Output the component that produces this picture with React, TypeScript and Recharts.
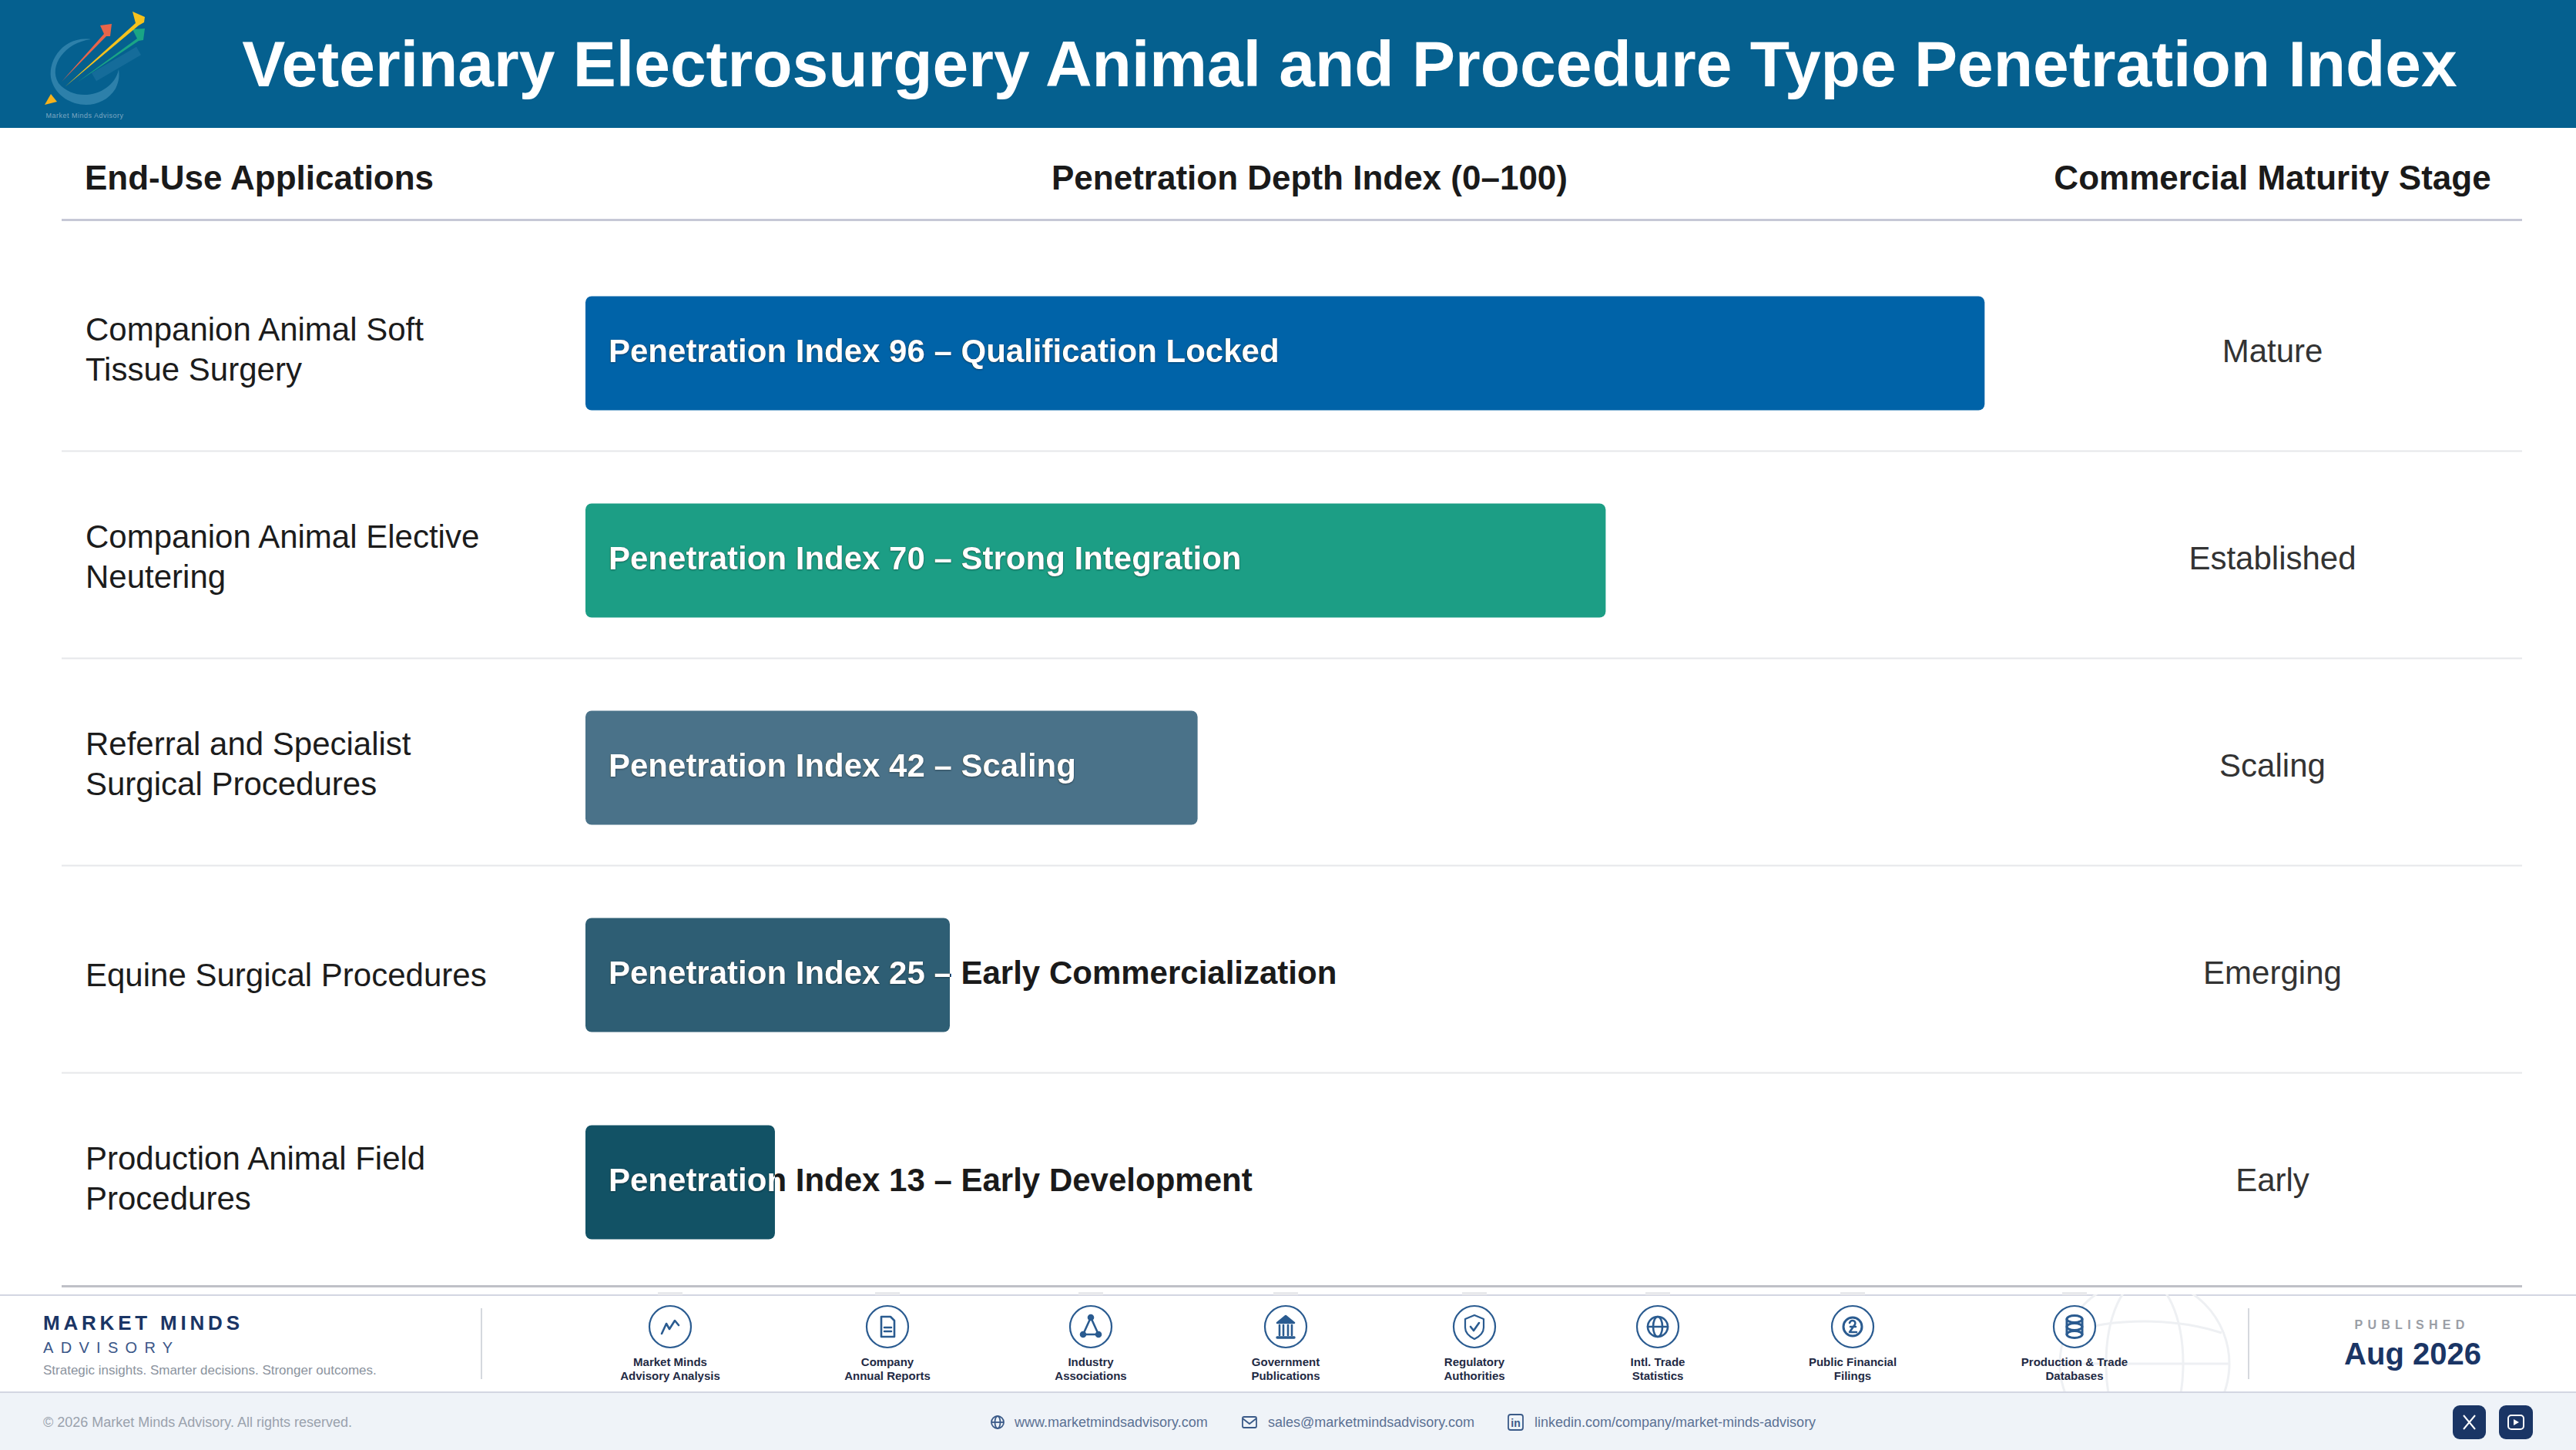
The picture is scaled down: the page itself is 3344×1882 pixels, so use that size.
import { BarChart, Bar, Cell, XAxis, YAxis, usePlotArea } from 'recharts';

const FONT = '"Liberation Sans", Arial, sans-serif';

const applications = [
  'Companion Animal Soft Tissue Surgery',
  'Companion Animal Elective Neutering',
  'Referral and Specialist Surgical Procedures',
  'Equine Surgical Procedures',
  'Production Animal Field Procedures',
];
const penetration = [96, 70, 42, 25, 13];
const statuses = ['Qualification Locked', 'Strong Integration', 'Scaling', 'Early Commercialization', 'Early Development'];
const stages = ['Mature', 'Established', 'Scaling', 'Emerging', 'Early'];
const barColors = ['#0063a8', '#1c9e85', '#4a7289', '#2e5e74', '#125265'];

const sources = [
  ['Market Minds', 'Advisory Analysis'],
  ['Company', 'Annual Reports'],
  ['Industry', 'Associations'],
  ['Government', 'Publications'],
  ['Regulatory', 'Authorities'],
  ['Intl. Trade', 'Statistics'],
  ['Public Financial', 'Filings'],
  ['Production & Trade', 'Databases'],
];
const sourceCenters = [870, 1152, 1416, 1669, 1914, 2152, 2405, 2693];

const chartData = applications.map((name, i) => ({
  name,
  value: penetration[i],
  status: statuses[i],
  stage: stages[i],
}));

function wrapLabel(text: string, limit = 26) {
  const lines: string[] = [];
  let line = '';
  text.split(' ').forEach((word) => {
    const next = line ? line + ' ' + word : word;
    if (next.length > limit) {
      lines.push(line);
      line = word;
    } else {
      line = next;
    }
  });
  lines.push(line);
  return lines;
}

function ApplicationTick({ x, y, payload }: any) {
  const lines = wrapLabel(payload.value);
  const top = y - ((lines.length - 1) * 52) / 2 + (lines.length === 1 ? 15 : 10);
  return (
    <text fontFamily={FONT} fontSize={42} fill="#1c1c1c">
      {lines.map((l, i) => (
        <tspan key={l} x={x - 649} y={top + i * 52}>
          {l}
        </tspan>
      ))}
    </text>
  );
}

function StageTick({ x, y, payload }: any) {
  return (
    <text x={x + 298} y={y + 12} textAnchor="middle" fontFamily={FONT} fontSize={42} fill="#333333">
      {payload.value}
    </text>
  );
}

// dark copy of the label underneath, white copy clipped to the bar
function LabelledBar({ x, y, width, height, fill, index, payload }: any) {
  const id = `bar-clip-${index}`;
  const label = `Penetration Index ${payload.value} – ${payload.status}`;
  const textProps = { x: x + 30, y: y + height / 2 + 11, fontFamily: FONT, fontSize: 42, fontWeight: 700 };
  return (
    <g>
      <clipPath id={id}>
        <rect x={x} y={y} width={width} height={height} rx={8} />
      </clipPath>
      <rect x={x} y={y} width={width} height={height} rx={8} fill={fill} />
      <text {...textProps} fill="#1a1a1a">
        {label}
      </text>
      <g clipPath={`url(#${id})`}>
        <text {...textProps} fill="#ffffff" style={{ filter: 'drop-shadow(0 1px 1px rgba(0,0,0,0.35))' }}>
          {label}
        </text>
      </g>
    </g>
  );
}

function RowDividers() {
  const plot = usePlotArea();
  if (!plot) return null;
  const band = plot.height / applications.length;
  return (
    <g>
      {applications.slice(1).map((name, i) => (
        <line key={name} x1={80} x2={3274} y1={plot.y + band * (i + 1) - 7} y2={plot.y + band * (i + 1) - 7} stroke="#e6e7ea" strokeWidth={2} />
      ))}
      <line x1={80} x2={3274} y1={plot.y + plot.height + 1} y2={plot.y + plot.height + 1} stroke="#bfc1c7" strokeWidth={3} />
    </g>
  );
}

function SourceIcon({ index }: { index: number }) {
  const c = '#2a5b90';
  const common = { fill: 'none', stroke: c, strokeWidth: 2.6, strokeLinejoin: 'round' as const, strokeLinecap: 'round' as const };
  const glyphs = [
    <polyline {...common} points="21,41 27,28 31,35 38,24 43,30" />,
    <g {...common}>
      <path d="M24 19 H36 L41 24 V45 H24 Z" />
      <path d="M28 33 H37 M28 38 H37" />
    </g>,
    <g {...common}>
      <path d="M32 20 L22 42 H42 Z" />
      <circle cx={32} cy={20} r={3} fill={c} />
      <circle cx={22} cy={42} r={3} fill={c} />
      <circle cx={42} cy={42} r={3} fill={c} />
    </g>,
    <g {...common}>
      <path d="M21 27 L32 18 L43 27 Z" fill={c} />
      <path d="M24 30 V43 M29 30 V43 M35 30 V43 M40 30 V43" />
      <path d="M21 46 H43" strokeWidth={3.4} />
    </g>,
    <g {...common}>
      <path d="M32 17 L44 22 V33 C44 40 38 45 32 48 C26 45 20 40 20 33 V22 Z" strokeWidth={2.2} />
      <path d="M27 32 L31 37 L38 27" />
    </g>,
    <g {...common}>
      <circle cx={32} cy={32} r={13} />
      <ellipse cx={32} cy={32} rx={6} ry={13} />
      <path d="M19 32 H45" />
    </g>,
    <g {...common}>
      <circle cx={32} cy={32} r={12} strokeWidth={3} />
      <path d="M28 27 C30 22 37 24 35 29 L28 39 H37 M29 32 H36" />
    </g>,
    <g {...common} strokeWidth={3}>
      <ellipse cx={32} cy={22} rx={10} ry={4.5} />
      <ellipse cx={32} cy={32} rx={10} ry={4.5} />
      <ellipse cx={32} cy={42} rx={10} ry={4.5} />
      <path d="M22 22 V42 M42 22 V42" />
    </g>,
  ];
  return (
    <svg width={64} height={64} viewBox="0 0 64 64" style={{ position: 'absolute', left: -32, top: -32 }}>
      <circle cx={32} cy={32} r={27} fill="#ffffff" stroke={c} strokeWidth={2.2} />
      {glyphs[index]}
    </svg>
  );
}

function Logo() {
  return (
    <svg width={240} height={166} style={{ position: 'absolute', left: 0, top: 0 }}>
      <path d="M118 51 C82 46 60 80 67 105 C78 140 130 148 150 115 C155 105 155 97 154 90 C148 122 100 136 76 108 C62 85 85 55 118 51 Z" fill="#3f8fb5" opacity={0.7} />
      <path d="M80 106 L135 44 L130 33 L145 31 L143 47 L138 47 Z" fill="#e8654a" />
      <path d="M100 107 L178 50 L172 38 L188 37 L186 52 L180 53 Z" fill="#1aa585" />
      <path d="M84 113 L176 30 L172 15 L188 22 L187 29 L180 33 Z" fill="#f6c21c" />
      <path d="M122 100 L180 66" stroke="#2a7ba8" strokeWidth={12} opacity={0.45} />
      <path d="M58 136 L74 132 L66 122 Z" fill="#f6b21c" />
      <text x={110} y={153} textAnchor="middle" fontFamily={FONT} fontSize={9} letterSpacing={0.5} fill="#7ea8c2">
        Market Minds Advisory
      </text>
    </svg>
  );
}

function Txt({ x, y, size, color, bold, center, spacing, children }: any) {
  return (
    <div
      style={{
        position: 'absolute',
        left: x,
        top: y,
        transform: center ? 'translate(-50%, -50%)' : 'translateY(-50%)',
        fontSize: size,
        color,
        fontWeight: bold ? 700 : 400,
        letterSpacing: spacing,
        whiteSpace: 'nowrap',
        lineHeight: 1,
      }}
    >
      {children}
    </div>
  );
}

export default function App() {
  return (
    <div style={{ position: 'absolute', left: 0, top: 0, width: 3344, height: 1882, background: '#ffffff', overflow: 'hidden', fontFamily: FONT }}>
      <div style={{ position: 'absolute', left: 0, top: 0, width: 3344, height: 166, background: '#05608f' }} />
      <Logo />
      <Txt x={1752} y={83} size={84} color="#ffffff" bold center>
        Veterinary Electrosurgery Animal and Procedure Type Penetration Index
      </Txt>

      <Txt x={110} y={231} size={44} color="#1a1a1a" bold>
        End-Use Applications
      </Txt>
      <Txt x={1700} y={231} size={44} color="#1a1a1a" bold center>
        Penetration Depth Index (0–100)
      </Txt>
      <Txt x={2950} y={231} size={44} color="#1a1a1a" bold center>
        Commercial Maturity Stage
      </Txt>
      <div style={{ position: 'absolute', left: 80, top: 284, width: 3194, height: 3, background: '#c6c8d6' }} />

      <div style={{ position: 'absolute', left: 0, top: 0 }}>
        <BarChart
          width={3344}
          height={1700}
          data={chartData}
          layout="vertical"
          margin={{ top: 323.5, right: 0, bottom: 31.5, left: 0 }}
          barSize={148}
        >
          <RowDividers />
          <XAxis type="number" domain={[0, 100]} hide />
          <YAxis yAxisId="left" type="category" dataKey="name" width={760} axisLine={false} tickLine={false} tickMargin={0} tickSize={0} tick={ApplicationTick} interval={0} />
          <YAxis yAxisId="right" orientation="right" type="category" dataKey="stage" width={692} axisLine={false} tickLine={false} tickMargin={0} tickSize={0} tick={StageTick} interval={0} />
          <Bar yAxisId="left" dataKey="value" isAnimationActive={false} shape={LabelledBar}>
            {chartData.map((d, i) => (
              <Cell key={d.name} fill={barColors[i]} />
            ))}
          </Bar>
        </BarChart>
      </div>

      {/* footer */}
      <div style={{ position: 'absolute', left: 0, top: 1680, width: 3344, height: 2, background: '#d3d6e2' }} />
      <svg width={240} height={128} style={{ position: 'absolute', left: 2664, top: 1680 }}>
        <g fill="none" stroke="#eef0f3" strokeWidth={3}>
          <circle cx={120} cy={90} r={110} />
          <ellipse cx={120} cy={90} rx={50} ry={110} />
          <path d="M10 90 H230 M20 50 C80 30 160 30 220 50" />
        </g>
      </svg>
      <div style={{ position: 'absolute', left: 0, top: 1806, width: 3344, height: 2, background: '#d3d6e2' }} />
      <div style={{ position: 'absolute', left: 0, top: 1808, width: 3344, height: 74, background: '#eff3f8' }} />

      <Txt x={56} y={1717} size={26} color="#1a3565" bold spacing={4.8}>
        MARKET MINDS
      </Txt>
      <Txt x={56} y={1749} size={20} color="#3a5688" spacing={9.3}>
        ADVISORY
      </Txt>
      <Txt x={56} y={1778} size={17} color="#8b939e">
        Strategic insights. Smarter decisions. Stronger outcomes.
      </Txt>
      <div style={{ position: 'absolute', left: 624, top: 1698, width: 2, height: 92, background: '#d5d8de' }} />
      <div style={{ position: 'absolute', left: 2918, top: 1698, width: 2, height: 92, background: '#d5d8de' }} />

      {sources.map((lines, i) => (
        <div key={lines[0]} style={{ position: 'absolute', left: sourceCenters[i], top: 1722 }}>
          <div style={{ position: 'absolute', left: -16, top: -45, width: 32, height: 4, background: '#e8e9ec' }} />
          <SourceIcon index={i} />
          <Txt x={0} y={45} size={15} color="#1f2a44" bold center>
            {lines[0]}
          </Txt>
          <Txt x={0} y={63} size={15} color="#1f2a44" bold center>
            {lines[1]}
          </Txt>
        </div>
      ))}

      <Txt x={3131} y={1720} size={16} color="#9a9ea6" bold center spacing={6.3}>
        PUBLISHED
      </Txt>
      <Txt x={3132} y={1757} size={40} color="#1a3565" bold center>
        Aug 2026
      </Txt>

      <Txt x={56} y={1846} size={18} color="#9aa2ad">
        © 2026 Market Minds Advisory. All rights reserved.
      </Txt>
      <Txt x={1317} y={1846} size={18} color="#5b7194">
        www.marketmindsadvisory.com
      </Txt>
      <Txt x={1646} y={1846} size={18} color="#5b7194">
        sales@marketmindsadvisory.com
      </Txt>
      <Txt x={1992} y={1846} size={18} color="#5b7194">
        linkedin.com/company/market-minds-advisory
      </Txt>
      <svg width={3344} height={74} style={{ position: 'absolute', left: 0, top: 1808 }}>
        <g fill="none" stroke="#3a5a88" strokeWidth={1.8}>
          <circle cx={1295} cy={38} r={8} />
          <ellipse cx={1295} cy={38} rx={3.5} ry={8} />
          <path d="M1287 38 H1303" />
          <rect x={1613} y={31} width={18} height={14} rx={2} />
          <path d="M1613 33 L1622 40 L1631 33" />
          <rect x={1958} y={28} width={19} height={20} rx={3} />
        </g>
        <text x={1967.5} y={44} textAnchor="middle" fontFamily={FONT} fontSize={14} fontWeight={700} fill="#3a5a88">
          in
        </text>
        <rect x={3184} y={16} width={43} height={44} rx={9} fill="#1a3565" />
        <rect x={3244} y={16} width={44} height={44} rx={9} fill="#1a3565" />
        <path d="M3198 29 L3213 47 M3213 29 L3198 47" stroke="#ffffff" strokeWidth={2} />
        <rect x={3256} y={29} width={20} height={18} rx={4} fill="none" stroke="#ffffff" strokeWidth={2} />
        <path d="M3263 34 L3270 38 L3263 42 Z" fill="#ffffff" />
      </svg>
    </div>
  );
}
